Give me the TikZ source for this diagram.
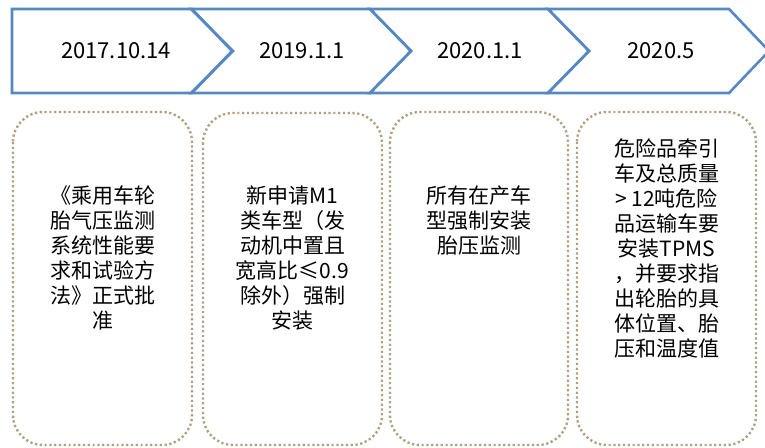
\documentclass[tikz,border=0pt]{standalone}
\usepackage{fontspec}
\newfontfamily\cjk{Noto Sans CJK SC}
\definecolor{chevblue}{RGB}{85,136,196}
\definecolor{dottan}{RGB}{176,160,128}
\tikzset{
  chev/.style={draw=chevblue, line width=2.6pt, line join=miter},
  note/.style={draw=dottan, line width=2.4pt, dash pattern=on 2.2pt off 2.6pt, rounded corners=30pt},
  datelbl/.style={font=\cjk\fontsize{22}{26}\selectfont, text=black, inner sep=0pt},
  bodytxt/.style={font=\cjk\fontsize{21}{25}\selectfont, text=black, align=center, inner sep=0pt, anchor=north}
}
\begin{document}
\begin{tikzpicture}[x=1pt,y=-1pt]
\useasboundingbox (0,0) rectangle (765,447);
% chevrons
\draw[chev] (12,9) -- (192,9) -- (232,51) -- (192,93) -- (12,93) -- cycle;
\draw[chev] (191,9) -- (370,9) -- (411,51) -- (370,93) -- (191,93) -- (233,51) -- cycle;
\draw[chev] (370,9) -- (548,9) -- (589,51) -- (548,93) -- (370,93) -- (411,51) -- cycle;
\draw[chev] (548,9) -- (729,9) -- (769,51) -- (729,93) -- (548,93) -- (589,51) -- cycle;
\node[datelbl] (d1) at (116,51) {2017.10.14};
\node[datelbl] (d2) at (302,51) {2019.1.1};
\node[datelbl] (d3) at (480,51) {2020.1.1};
\node[datelbl] (d4) at (661,51) {2020.5};
% note boxes
\draw[note] (13,112) rectangle (192,445);
\draw[note] (203,113) rectangle (382,445);
\draw[note] (390,112) rectangle (568,445);
\draw[note] (577,112) rectangle (756,445);
\node[bodytxt] (t1) at (102.5,186) {《乘用车轮\\胎气压监测\\系统性能要\\求和试验方\\法》正式批\\准};
\node[bodytxt] (t2) at (292.5,186) {新申请M1\\类车型（发\\动机中置且\\宽高比≤0.9\\除外）强制\\安装};
\node[bodytxt] (t3) at (479,186) {所有在产车\\型强制安装\\胎压监测};
\node[bodytxt] (t4) at (666.5,139) {危险品牵引\\车及总质量\\> 12吨危险\\品运输车要\\安装TPMS\\，并要求指\\出轮胎的具\\体位置、胎\\压和温度值};
\end{tikzpicture}
\end{document}
